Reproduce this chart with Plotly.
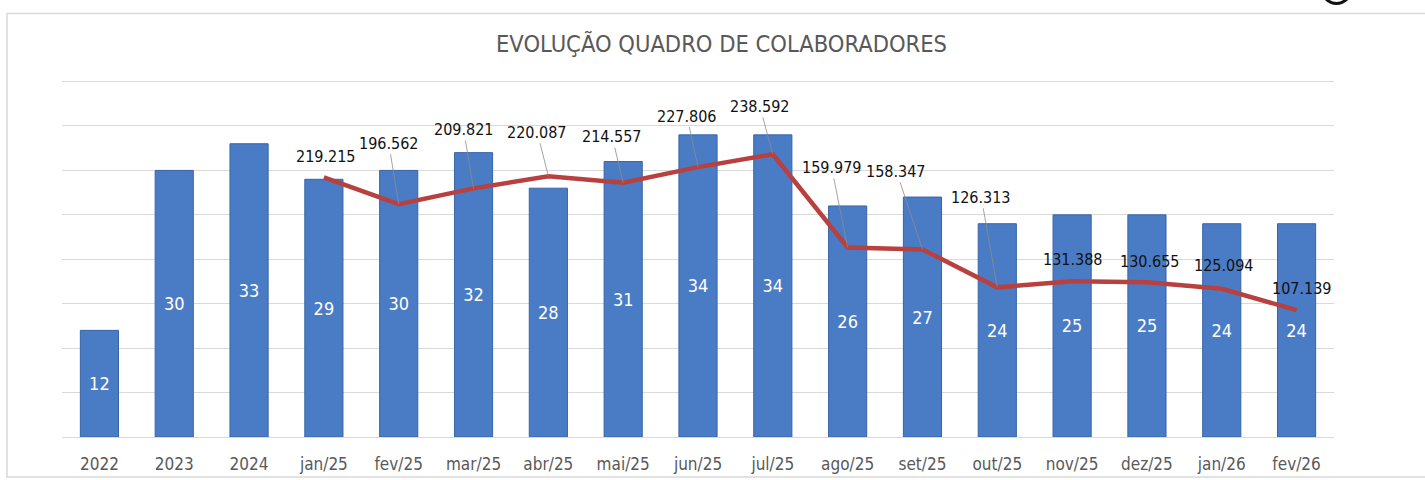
import plotly.graph_objects as go

categories = ["2022", "2023", "2024", "jan/25", "fev/25", "mar/25", "abr/25", "mai/25",
              "jun/25", "jul/25", "ago/25", "set/25", "out/25", "nov/25", "dez/25",
              "jan/26", "fev/26"]
headcount = [12, 30, 33, 29, 30, 32, 28, 31, 34, 34, 26, 27, 24, 25, 25, 24, 24]
payroll = [None, None, None, 219215, 196562, 209821, 220087, 214557, 227806, 238592,
           159979, 158347, 126313, 131388, 130655, 125094, 107139]
title_text = "EVOLUÇÃO QUADRO DE COLABORADORES"

# label placement offsets (pixels) and whether a leader line is drawn
label_dx = [0, 0, 0, 2, -10, -10, -11, -11, -11, -13, -16, -26, -16, 1, 3, 2, 5]
label_dy = [0, 0, 0, -21, -61, -59, -44, -46, -51, -48, -80, -78, -90, -22, -21, -23, -22]
leader = [False, False, False, False, True, True, True, True, True, True, True, True, True,
          False, False, False, False]

W, H = 1425, 480
PAD = 1.01  # headroom so the top gridline is drawn inside the plot area
L, R, B = 62, 1334, 437
T = B - (B - 82) * PAD

def px(x):
    return (x - L) / (R - L)

def py(y):
    return (B - y) / (B - T)

def fmt(v):
    return f"{v:,}".replace(",", ".")

FONT = "DejaVu Sans Condensed, Liberation Sans Narrow, DejaVu Sans, sans-serif"

fig = go.Figure()
fig.add_trace(go.Bar(
    x=categories, y=headcount,
    text=[str(v) for v in headcount],
    textposition="inside", insidetextanchor="middle", textangle=0,
    textfont=dict(color="white", size=18, family=FONT),
    marker=dict(color="#4A7CC5", line=dict(color="#3764A8", width=1)),
    width=0.51, hoverinfo="skip", cliponaxis=False,
))
fig.add_trace(go.Scatter(
    x=categories, y=payroll, yaxis="y2", mode="lines",
    line=dict(color="#B8413F", width=4.5), hoverinfo="skip", connectgaps=False,
))

annotations = []
for c, v, dx, dy, ld in zip(categories, payroll, label_dx, label_dy, leader):
    if v is None:
        continue
    annotations.append(dict(
        x=c, y=v, xref="x", yref="y2", text=fmt(v), showarrow=True,
        ax=dx, ay=dy, arrowhead=0, arrowwidth=0.8,
        arrowcolor="#8C8C8C" if ld else "rgba(0,0,0,0)",
        font=dict(color="#111111", size=16, family=FONT),
    ))
annotations.append(dict(
    x=px(721), y=py(44), xref="paper", yref="paper", text=title_text, showarrow=False,
    font=dict(color="#595959", size=23.5, family=FONT), xanchor="center", yanchor="middle",
))

fig.update_layout(
    width=W, height=H,
    margin=dict(l=L, r=W - R, t=T, b=H - B, autoexpand=False),
    paper_bgcolor="white", plot_bgcolor="white",
    showlegend=False,
    bargap=0.49,
    annotations=annotations,
    xaxis=dict(showgrid=False, showline=True, linecolor="#D9D9D9", linewidth=1,
               tickfont=dict(color="#595959", size=17, family=FONT), automargin=False,
               ticks="", ticklabelstandoff=12, fixedrange=True),
    yaxis=dict(range=[0, 40 * PAD], tickvals=[5, 10, 15, 20, 25, 30, 35, 40],
               showgrid=True, gridcolor="#D9D9D9", gridwidth=1, automargin=False,
               showticklabels=False, zeroline=False, showline=False, fixedrange=True),
    yaxis2=dict(range=[0, 300000 * PAD], overlaying="y", side="right", showgrid=False,
                automargin=False,
                showticklabels=False, zeroline=False, showline=False, fixedrange=True),
    shapes=[
        dict(type="rect", xref="paper", yref="paper", x0=px(7), x1=px(1440),
             y0=py(477), y1=py(14), line=dict(color="#D9D9D9", width=1.5),
             fillcolor="rgba(0,0,0,0)", layer="below"),
        dict(type="circle", xref="paper", yref="paper", x0=px(1322), x1=px(1351),
             y0=py(4), y1=py(-25), line=dict(color="#111111", width=3)),
    ],
)

fig.write_html("out.html", config={"displayModeBar": False})
